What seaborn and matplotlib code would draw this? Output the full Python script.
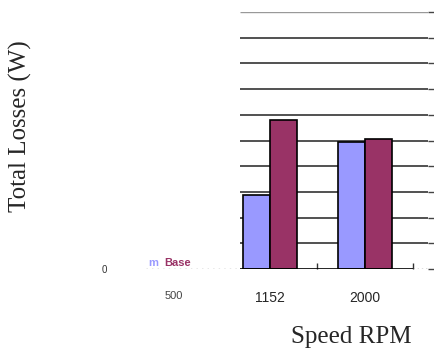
import matplotlib
matplotlib.use("Agg")
import matplotlib.pyplot as plt
import seaborn as sns
import pandas as pd
import numpy as np

# ---- data ----
speeds = ["500", "1152", "2000"]
series_names = ["Optimum", "Base"]
optimum_losses = [np.nan, 288, 493]
base_losses = [np.nan, 580, 506]
y_ticks = [0, 100, 200, 300, 400, 500, 600, 700, 800, 900, 1000]
y_tick_labels = ["0", "", "", "", "", "", "", "", "", "", ""]
colors = ["#9999FF", "#993366"]

df = pd.DataFrame({
    "speed": speeds * 2,
    "loss": optimum_losses + base_losses,
    "series": [series_names[0]] * 3 + [series_names[1]] * 3,
})

sns.set_style("white")
plt.rcParams["font.family"] = ["Liberation Sans", "DejaVu Sans"]

fig = plt.figure(figsize=(4.34, 3.51), dpi=100)
W, H = 434, 351
left, right, top, bottom = 126.5, 428, 12, 269
ax = fig.add_axes([left / W, 1 - bottom / H, (right - left) / W, (bottom - top) / H])

sns.barplot(data=df, x="speed", y="loss", hue="series", order=speeds,
            hue_order=series_names, palette=colors, saturation=1, edgecolor="black",
            linewidth=1.2, width=0.565, gap=0, ax=ax, legend=False, zorder=3)

ax.set_xlim(-0.5, 2.66)
ax.set_ylim(0, 1000)
for s in ax.spines.values():
    s.set_visible(False)

# gridlines (left part of plot area is blank in reference)
grid_start = 0.69
ax.hlines(y_ticks[1:-1], grid_start, 2.66, colors="#222222", linewidth=1.1, zorder=1)
ax.hlines([y_ticks[-1]], grid_start, 2.66, colors="#999999", linewidth=1.0, zorder=1)
# baseline
ax.hlines([0], grid_start, 2.5, colors="black", linewidth=1.2, zorder=4)
ax.hlines([0], 2.5, 2.66, colors="#555555", linewidth=1.0, linestyles=(0, (1, 2)), zorder=4)
ax.hlines([0], -0.3, grid_start, colors="#888888", linewidth=1.0, linestyles=(0, (1, 3)), zorder=4)

ax.set_yticks(y_ticks)
ax.set_yticklabels(y_tick_labels, fontsize=7, color="#333333")
ax.tick_params(axis="y", which="major", left=False, right=True, length=4,
               direction="out", width=1, color="#444444", pad=10)
ax.set_xticks(range(len(speeds)))
ax.set_xticklabels(speeds, fontsize=10)
ax.tick_params(axis="x", which="major", length=0, pad=16)
ax.set_xticks([1.5, 2.5], minor=True)
ax.tick_params(axis="x", which="minor", bottom=True, length=4, direction="in",
               width=1, color="#333333")
ax.xaxis.get_ticklabels()[0].set_color("#444444")
ax.xaxis.get_ticklabels()[0].set_fontsize(8)
ax.set_xlabel("")
ax.set_ylabel("")

# legend fragment
fig.text(148 / W, 1 - 266 / H, "m", color=colors[0], fontsize=8, fontweight="bold")
fig.text(164 / W, 1 - 266 / H, "Base", color=colors[1], fontsize=8, fontweight="bold")

fig.text(20.5 / W, 1 - 126 / H, "Total Losses (W)", rotation=90, ha="center", va="center",
         fontsize=18, family=["Liberation Serif", "DejaVu Serif"])
fig.text(351 / W, 1 - 337 / H, "Speed RPM", ha="center", va="center",
         fontsize=18, family=["Liberation Serif", "DejaVu Serif"])

fig.savefig("out.png", dpi=100)
